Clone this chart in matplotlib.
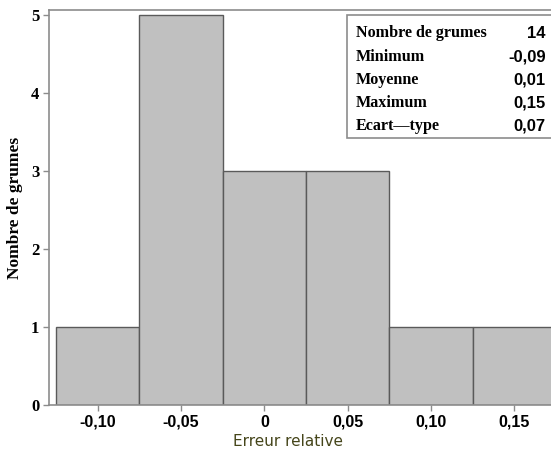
import numpy as np
import matplotlib.pyplot as plt
from matplotlib.patches import Rectangle

# histogram of relative error
bin_edges = [-0.125, -0.075, -0.025, 0.025, 0.075, 0.125, 0.175]
counts = [1, 5, 3, 3, 1, 1]
xticks = [-0.10, -0.05, 0, 0.05, 0.10, 0.15]
xtick_labels = ['-0,10', '-0,05', '0', '0,05', '0,10', '0,15']
yticks = [0, 1, 2, 3, 4, 5]

stat_names = ['Nombre de grumes', 'Minimum', 'Moyenne', 'Maximum', 'Ecart\u2014type']
stat_values = ['14', '-0,09', '0,01', '0,15', '0,07']

W, H = 551, 453
fig = plt.figure(figsize=(W / 100, H / 100), dpi=100)
ax = fig.add_axes([49 / W, 48 / H, 512 / W, 395 / H])

lefts = np.array(bin_edges[:-1])
widths = np.diff(bin_edges)
ax.bar(lefts, counts, width=widths, align='edge', color='#c0c0c0',
       edgecolor='#5a5a5a', linewidth=1.0, zorder=2)

ax.set_xlim(-0.1292, 0.178)
ax.set_ylim(0, 5.064)

for s in ['left', 'top', 'bottom', 'right']:
    ax.spines[s].set_color('#8c8c8c')
    ax.spines[s].set_linewidth(1.2)

ax.set_xticks(xticks)
ax.set_xticklabels(xtick_labels, family='Liberation Sans', weight='bold', fontsize=11.5)
ax.set_yticks(yticks)
ax.set_yticklabels([str(v) for v in yticks], family='Liberation Serif', weight='bold', fontsize=12)
ax.tick_params(axis='both', colors='#8c8c8c', length=4, width=1, labelcolor='black')
ax.tick_params(axis='x', pad=3)
ax.tick_params(axis='y', pad=3)

# x label sits a bit left of the axes centre in the reference
fig.text(288 / W, 1 - 441 / H, 'Erreur relative', family='DejaVu Sans', fontsize=11,
         color='#45451a', ha='center', va='center')
ax.set_ylabel('Nombre de grumes', family='Liberation Serif', weight='bold', fontsize=12.5, labelpad=6)

# stats box (figure pixels)
box = Rectangle((347 / W, 1 - 138 / H), 215 / W, 123 / H, transform=fig.transFigure,
                facecolor='white', edgecolor='#8c8c8c', linewidth=1.2, zorder=5)
fig.add_artist(box)
row_y = [33, 57, 80, 103, 126]
for name, val, y in zip(stat_names, stat_values, row_y):
    fig.text(356 / W, 1 - y / H, name, family='Liberation Serif', weight='bold',
             fontsize=11.6, va='center', ha='left', zorder=6)
    fig.text(546 / W, 1 - y / H, val, family='Liberation Sans', weight='bold',
             fontsize=12, va='center', ha='right', zorder=6)

fig.savefig('out.png', dpi=100)
